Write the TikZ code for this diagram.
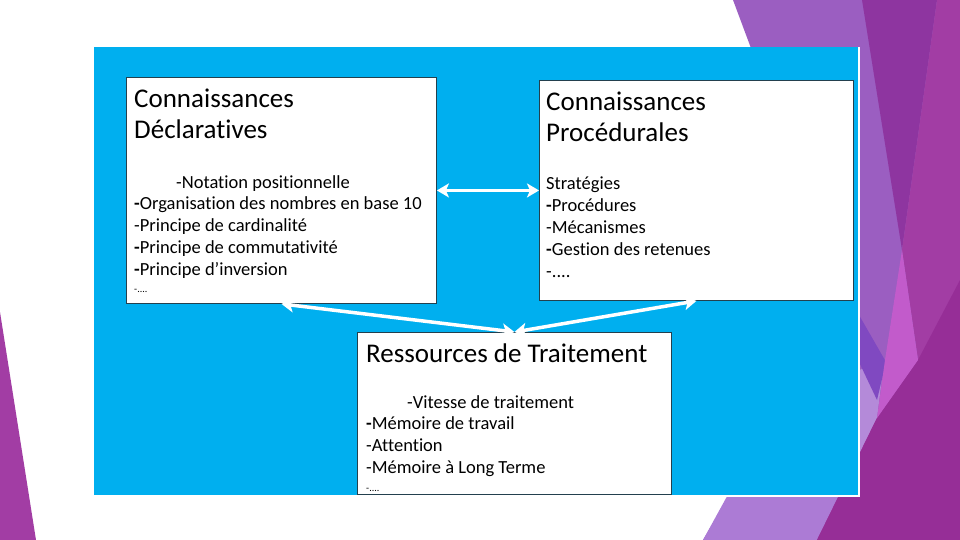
\documentclass[tikz,border=0pt]{standalone}
\usepackage{fontspec}
\setmainfont{Carlito}[Ligatures=NoCommon]
\usetikzlibrary{arrows.meta}

\definecolor{slideblue}{HTML}{00AFEF}
\definecolor{boxline}{HTML}{23404E}
\definecolor{lilac}{HTML}{9B5EC1}
\definecolor{lavender}{HTML}{AC7BD5}
\definecolor{paleviolet}{HTML}{B48AD9}
\definecolor{deepviolet}{HTML}{8049C1}
\definecolor{plum}{HTML}{8E35A0}
\definecolor{orchid}{HTML}{A23DA4}
\definecolor{darkorchid}{HTML}{962E97}
\definecolor{pinkorchid}{HTML}{C25BCB}

\tikzstyle{panel}=[rectangle, draw=boxline, fill=white, line width=0.9pt,
                   inner sep=0, anchor=north west]
\tikzstyle{heading}=[inner sep=0, anchor=north west, align=left,
                     font=\fontsize{27}{31}\selectfont]
\tikzstyle{items}=[inner sep=0, anchor=north west, align=left,
                   font=\fontsize{18.5}{21.8}\selectfont]
\tikzstyle{link}=[draw=white, line width=3.5pt,
                  {Stealth[length=12pt,width=14pt,inset=3pt]}-{Stealth[length=12pt,width=14pt,inset=3pt]}]

\begin{document}
\begin{tikzpicture}[x=1pt, y=-1pt]

  %%%%%%%%%%%%%%%%%%%%%%%%%%%%%%
  %%%%%%%%%%%%%%%%%%%%%%%%%%%%%%
  % slide background
  \useasboundingbox (0, 0) rectangle (960, 540);
  \fill[white] (0, 0) rectangle (960, 540);

  % left corner
  \fill[orchid] (0, 312) -- (36, 540) -- (0, 540) -- cycle;

  % right side
  \fill[lilac] (733, 0) -- (960, 0) -- (960, 540) -- (703, 540) -- (845, 300) -- cycle;
  \fill[lavender] (703, 540) -- (780, 400) -- (862, 380) -- (878, 420) -- (817, 540) -- cycle;
  \fill[paleviolet] (859, 370) -- (884, 362) -- (877, 418) -- (859, 455) -- cycle;
  \fill[deepviolet] (859, 315) -- (886, 362) -- (877, 400) -- (859, 362) -- cycle;
  \fill[plum] (862, 0) -- (937, 0) -- (902, 250) -- cycle;
  \fill[orchid] (937, 0) -- (960, 0) -- (960, 540) -- (817, 540) -- (877, 418)
    -- (918, 360) -- (902, 250) -- cycle;
  \fill[darkorchid] (960, 280) -- (960, 540) -- (817, 540) -- (877, 418) -- (918, 360) -- cycle;
  \fill[pinkorchid] (902, 250) -- (918, 360) -- (877, 418) -- (885, 360) -- cycle;

  % blue panel
  \fill[slideblue] (94, 47) rectangle (859, 496);
  \draw[white, line width=1.2pt] (859, 47) -- (859, 496) -- (94, 496);

  %%%%%%%%%%%%%%%%%%%%%%%%%%%%%%
  % nodes
  % declaratives
  \node (decl) at (126, 77) [panel, minimum width=310pt, minimum height=226pt] {};
  \node (decl_head) at (134, 89) [heading] {Connaissances\\D\'eclaratives};
  \node (decl_items) at (134, 175) [items]
    {\hspace*{42pt}-Notation positionnelle\\
     \textbf{-}Organisation des nombres en base 10\\
     -Principe de cardinalit\'e\\
     \textbf{-}Principe de commutativit\'e\\
     \textbf{-}Principe d’inversion\\[-5pt]
     {\fontsize{10}{10}\selectfont -....}};

  % procedurales
  \node (proc) at (539, 80) [panel, minimum width=314pt, minimum height=220pt] {};
  \node (proc_head) at (546, 92) [heading] {Connaissances\\Proc\'edurales};
  \node (proc_items) at (546, 177) [items]
    {Strat\'egies\\
     \textbf{-}Proc\'edures\\
     -M\'ecanismes\\
     \textbf{-}Gestion des retenues\\
     -....};

  % traitement
  \node (trait) at (357, 332) [panel, minimum width=314pt, minimum height=162pt] {};
  \node (trait_head) at (366, 344) [heading] {Ressources de Traitement};
  \node (trait_items) at (366, 395) [items]
    {\hspace*{41pt}-Vitesse de traitement\\
     \textbf{-}M\'emoire de travail\\
     -Attention\\
     -M\'emoire \`a Long Terme\\[-4pt]
     {\fontsize{10}{10}\selectfont -....}};

  %%%%%%%%%%%%%%%%%%%%%%%%%%%%%%
  % links
  \draw [link] (decl.east) to (proc.west);

  \draw [link] (decl.south) to (trait.north);

  \draw [link] (proc.south) to (trait.north);

\end{tikzpicture}
\end{document}
